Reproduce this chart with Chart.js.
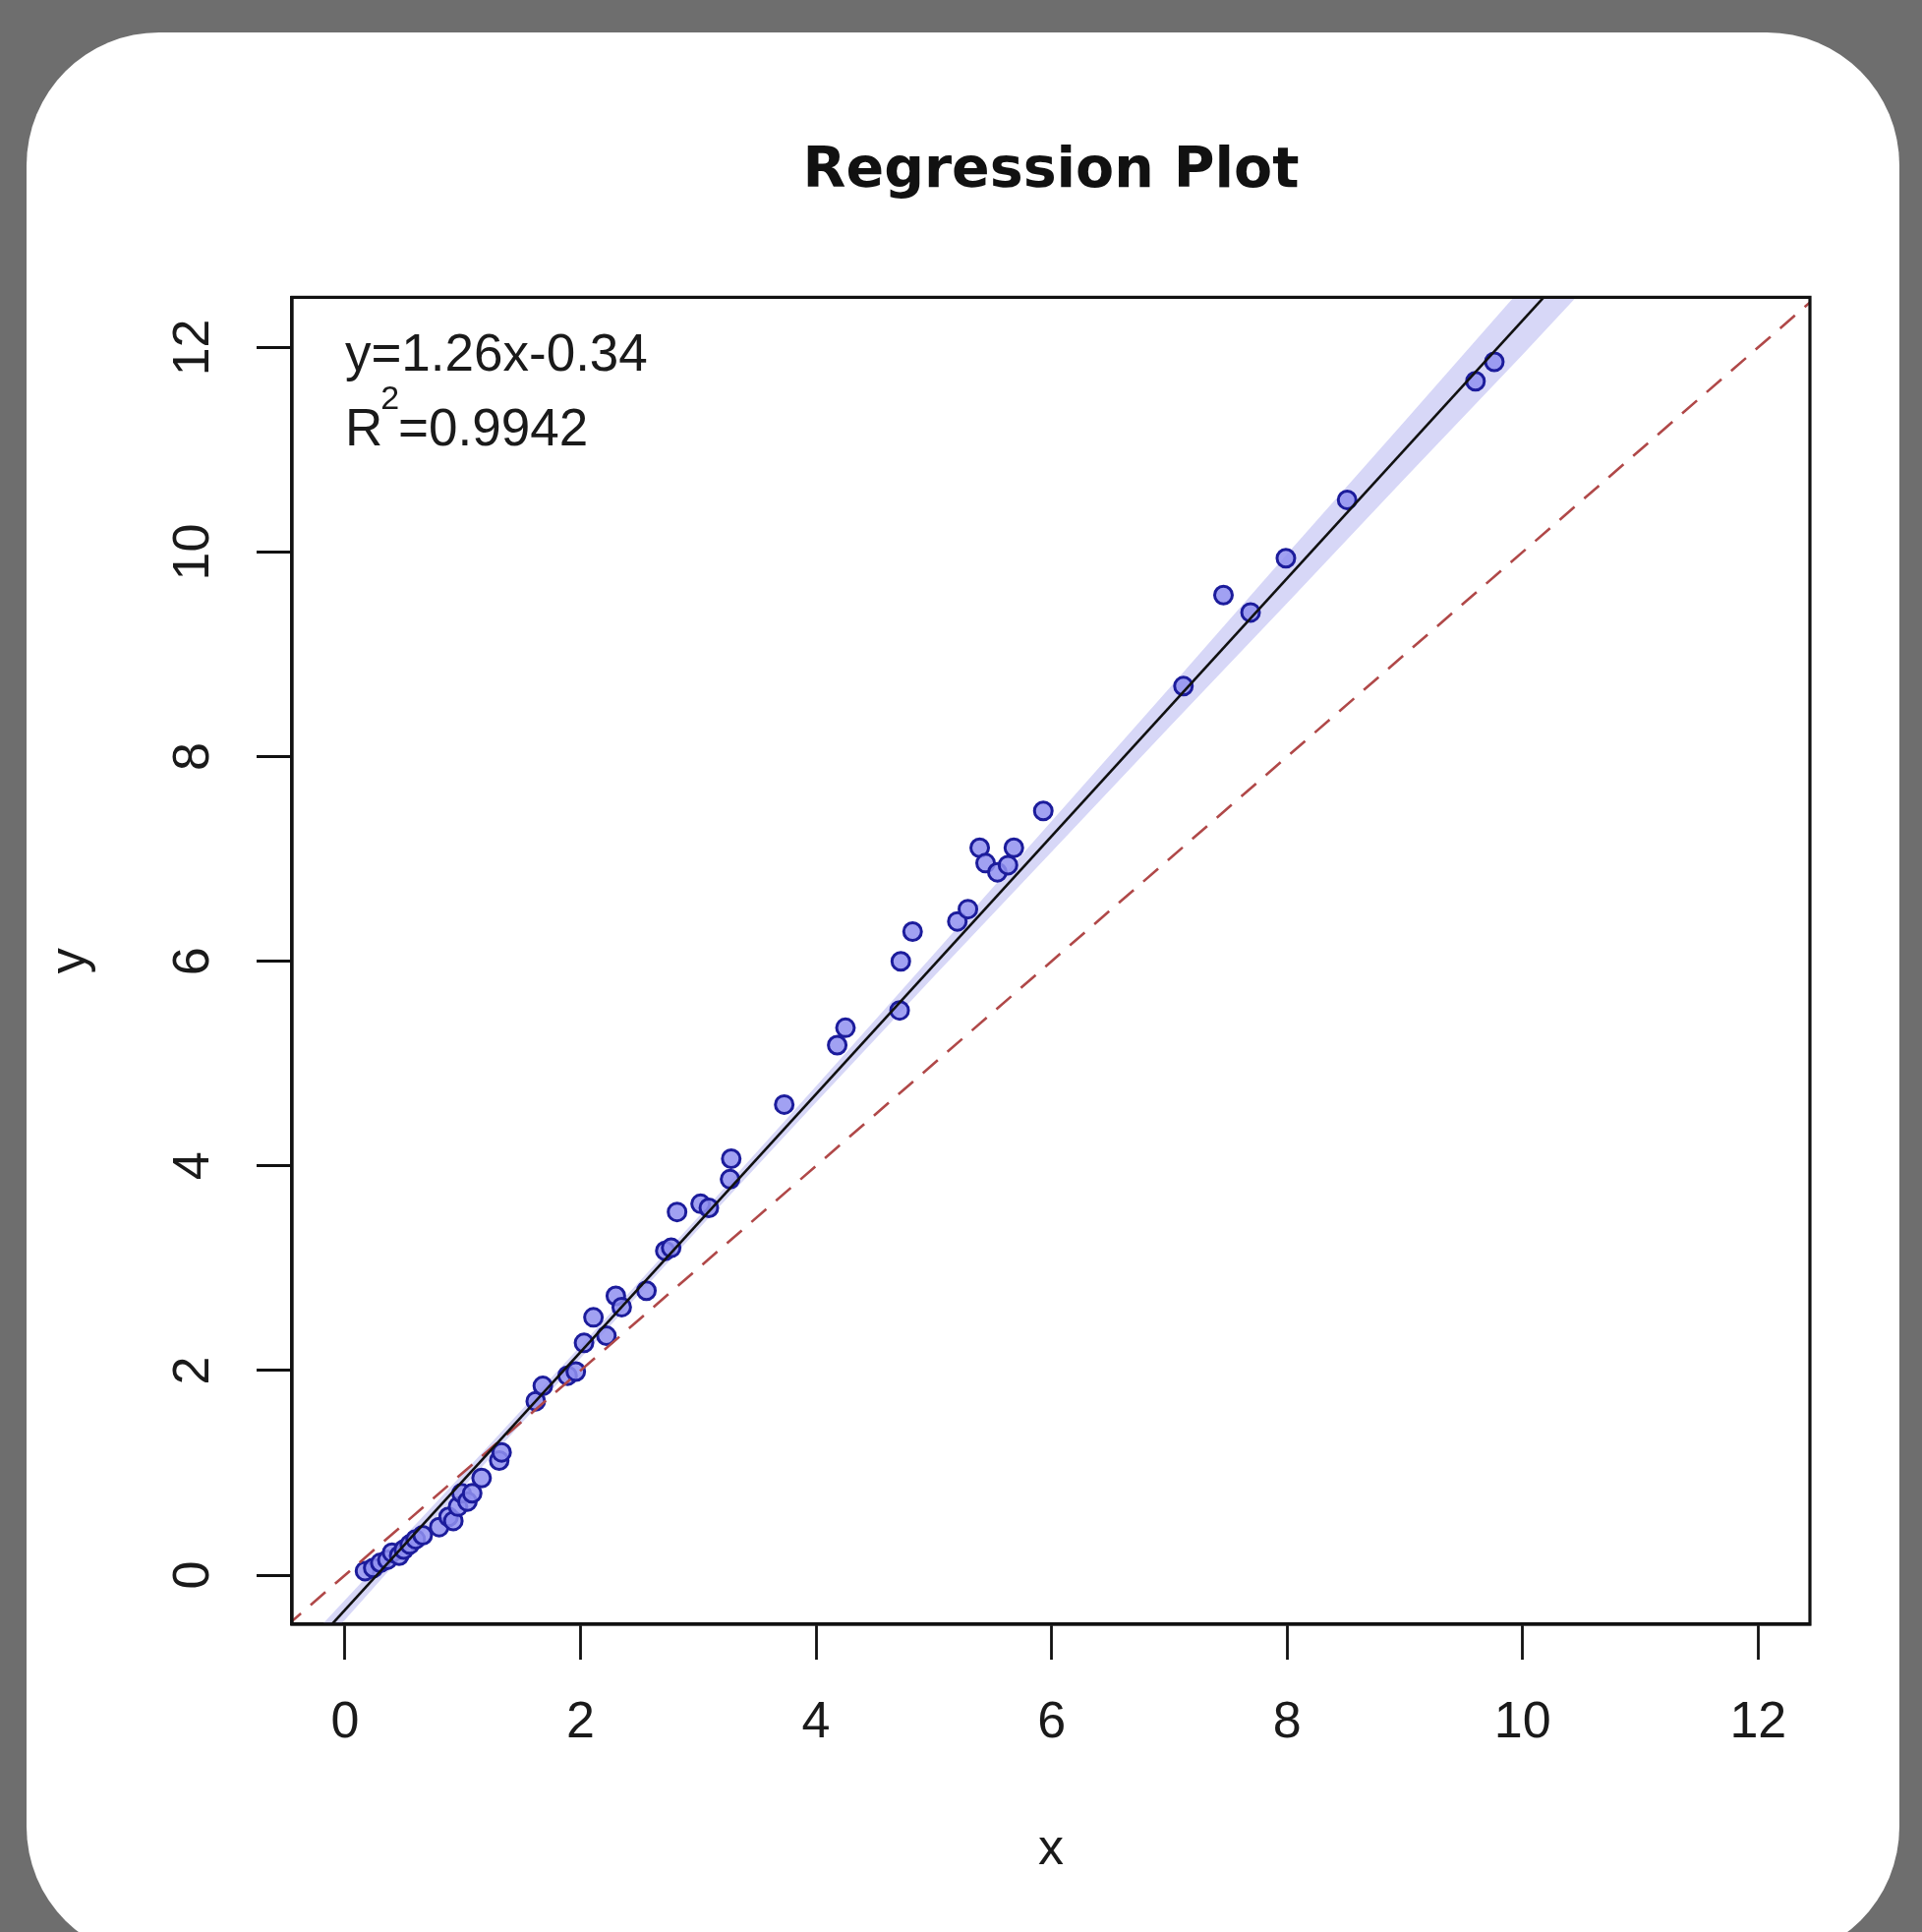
<!DOCTYPE html>
<html><head><meta charset="utf-8">
<script src="https://cdn.jsdelivr.net/npm/chart.js@4.4.1/dist/chart.umd.min.js"></script>
<style>
html,body{margin:0;padding:0;width:1955px;height:1965px;overflow:hidden;background:#6e6e6e;}
#panel{position:absolute;left:27px;top:33px;width:1905px;height:1960px;background:#fff;border-radius:135px;}
#c{position:absolute;left:0;top:0;}
</style></head><body>
<div id="panel"></div>
<canvas id="c" width="1955" height="1965"></canvas>
<script>
// ---- data ----
const pointsX = [0.17,0.24,0.30,0.36,0.40,0.46,0.50,0.55,0.60,0.66,0.80,0.88,0.92,0.96,0.99,1.04,1.08,1.16,1.31,1.33,1.62,1.68,1.89,1.96,2.03,2.11,2.22,2.30,2.35,2.56,2.72,2.77,2.82,3.02,3.09,3.27,3.28,3.73,4.18,4.25,4.71,4.72,4.82,5.20,5.29,5.39,5.44,5.54,5.63,5.68,5.93,7.12,7.46,7.69,7.99,8.51,9.60,9.76];
const pointsY = [0.04,0.07,0.12,0.15,0.22,0.19,0.25,0.30,0.35,0.39,0.47,0.57,0.53,0.67,0.80,0.72,0.80,0.95,1.12,1.20,1.70,1.85,1.95,1.99,2.27,2.52,2.34,2.73,2.62,2.78,3.17,3.20,3.55,3.63,3.59,3.87,4.07,4.60,5.18,5.35,5.52,6.00,6.29,6.39,6.51,7.11,6.96,6.87,6.94,7.11,7.47,8.69,9.58,9.41,9.94,10.51,11.67,11.86];
const fitLineX = [-0.5, 10.6];
const fitLineY = [-0.97, 13.02];
const refLineX = [-0.5, 12.6];
const refLineY = [-0.5, 12.6];
const bandX     = [-0.5, 1, 2, 3, 4, 5, 6, 7, 8, 9, 10, 10.6];
const bandLower = [-1.08, 0.85, 2.12, 3.38, 4.62, 5.85, 7.07, 8.29, 9.50, 10.72, 11.93, 12.67];
const bandUpper = [-0.86, 0.99, 2.24, 3.50, 4.78, 6.07, 7.37, 8.67, 9.98, 11.28, 12.59, 13.37];
const xTicks = [0, 2, 4, 6, 8, 10, 12];
const yTicks = [0, 2, 4, 6, 8, 10, 12];
const xTickLabels = ['0', '2', '4', '6', '8', '10', '12'];
const yTickLabels = ['0', '2', '4', '6', '8', '10', '12'];
const xMin = -0.45, xMax = 12.44, yMin = -0.48, yMax = 12.49;
const titleText = 'Regression Plot';
const xTitle = 'x';
const yTitle = 'y';
const eqText = 'y=1.26x-0.34';
const r2Base = 'R', r2Sup = '2', r2Value = '=0.9942';

const zip = (xs, ys) => xs.map((v, i) => ({x: v, y: ys[i]}));
const TXT = '#1a1a1a';
const FONT = '"Liberation Sans", Arial, sans-serif';

const framePlugin = {
  id: 'frame',
  afterDatasetsDraw(chart) {
    const {ctx, chartArea: a} = chart;
    ctx.save();
    ctx.strokeStyle = '#111';
    ctx.lineWidth = 3.2;
    ctx.strokeRect(a.left, a.top, a.right - a.left, a.bottom - a.top);
    ctx.fillStyle = TXT;
    ctx.textBaseline = 'alphabetic';
    ctx.textAlign = 'left';
    const x0 = chart.scales.x.getPixelForValue(0);
    ctx.font = '53px ' + FONT;
    ctx.fillText(eqText, x0, a.top + 75);
    ctx.fillText(r2Base, x0, a.top + 151);
    const wR = ctx.measureText(r2Base).width;
    ctx.font = '34px ' + FONT;
    ctx.fillText(r2Sup, x0 + wR - 2, a.top + 114);
    const w2 = ctx.measureText(r2Sup).width;
    ctx.font = '53px ' + FONT;
    ctx.fillText(r2Value, x0 + wR + w2 - 3, a.top + 151);
    ctx.restore();
  }
};

new Chart(document.getElementById('c'), {
  type: 'line',
  data: {
    datasets: [
      { label: 'fit', data: zip(fitLineX, fitLineY), borderColor: '#111', borderWidth: 2.6,
        pointRadius: 0, fill: false, order: 0 },
      { label: 'y=x', data: zip(refLineX, refLineY), borderColor: '#b04848', borderWidth: 2.6,
        borderDash: [20, 13], pointRadius: 0, fill: false, order: 1 },
      { label: 'points', data: zip(pointsX, pointsY), showLine: false, pointRadius: 9,
        pointBorderWidth: 3, pointBackgroundColor: 'rgba(145,145,240,0.85)',
        pointBorderColor: '#1c1c9c', order: 2 },
      { label: 'upper', data: zip(bandX, bandUpper), borderWidth: 0, borderColor: 'rgba(0,0,0,0)',
        pointRadius: 0, fill: '+1', backgroundColor: 'rgba(150,150,235,0.38)', order: 3 },
      { label: 'lower', data: zip(bandX, bandLower), borderWidth: 0, borderColor: 'rgba(0,0,0,0)',
        pointRadius: 0, fill: false, order: 4 }
    ]
  },
  options: {
    responsive: false,
    devicePixelRatio: 1,
    animation: false,
    events: [],
    layout: { padding: { left: 0, top: 0, right: 114, bottom: 0 } },
    plugins: {
      legend: { display: false },
      tooltip: { enabled: false },
      title: {
        display: true, text: titleText, fullSize: false, color: '#111',
        font: { family: '"DejaVu Sans", sans-serif', weight: 'bold', size: 57, lineHeight: 1.2 },
        padding: { top: 141, bottom: 93 }
      }
    },
    scales: {
      x: {
        type: 'linear', position: 'bottom', min: xMin, max: xMax, bounds: 'data',
        afterBuildTicks: s => { s.ticks = xTicks.map(v => ({value: v})); },
        afterFit: s => { s.height = 313; },
        ticks: { autoSkip: false, padding: 33, color: TXT, maxRotation: 0, minRotation: 0,
          font: { family: FONT, size: 52 }, callback: (v, i) => xTickLabels[i] },
        grid: { drawOnChartArea: false, drawTicks: true, tickLength: 36, tickWidth: 2.8, tickColor: '#111' },
        border: { display: true, color: '#111', width: 3.2 },
        title: { display: true, text: xTitle, color: TXT, font: { family: FONT, size: 52 },
          padding: { top: 0, bottom: 52 } }
      },
      y: {
        type: 'linear', position: 'left', min: yMin, max: yMax, bounds: 'data',
        afterBuildTicks: s => { s.ticks = yTicks.map(v => ({value: v})); },
        afterFit: s => { s.width = 297; },
        ticks: { autoSkip: false, padding: 34, color: TXT, minRotation: 90, maxRotation: 90,
          crossAlign: 'center', font: { family: FONT, size: 52 }, callback: (v, i) => yTickLabels[i] },
        grid: { drawOnChartArea: false, drawTicks: true, tickLength: 36, tickWidth: 2.8, tickColor: '#111' },
        border: { display: true, color: '#111', width: 3.2 },
        title: { display: true, text: yTitle, color: TXT, font: { family: FONT, size: 52 },
          padding: { top: 40, bottom: 0 } }
      }
    }
  },
  plugins: [framePlugin]
});
</script>
</body></html>
